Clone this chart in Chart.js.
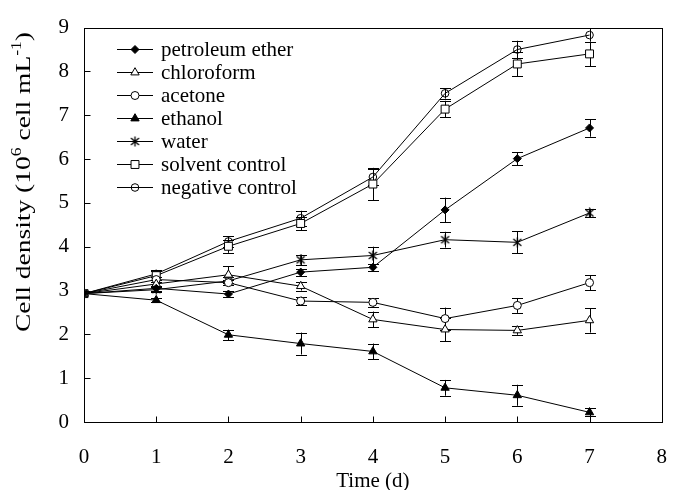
<!DOCTYPE html>
<html>
<head>
<meta charset="utf-8">
<script src="https://cdn.jsdelivr.net/npm/chart.js@4/dist/chart.umd.min.js"></script>
<style>
  html, body { margin: 0; padding: 0; background: #fff; }
  #wrap { width: 690px; height: 490px; }
</style>
</head>
<body>
<div id="wrap"><canvas id="c" width="690" height="490"></canvas></div>
<script>
// ---- data ----
const days = [0, 1, 2, 3, 4, 5, 6, 7];
const xTicks = [0, 1, 2, 3, 4, 5, 6, 7, 8];
const yTicks = [0, 1, 2, 3, 4, 5, 6, 7, 8, 9];
const seriesNames = ["petroleum ether", "chloroform", "acetone", "ethanol", "water", "solvent control", "negative control"];

const petroleum    = [2.93, 3.05, 2.92, 3.42, 3.53, 4.84, 6.01, 6.71];
const petroleumErr = [0, 0.05, 0.07, 0.08, 0.08, 0.28, 0.15, 0.20];
const chloroform    = [2.93, 3.15, 3.36, 3.10, 2.34, 2.11, 2.09, 2.32];
const chloroformErr = [0, 0.05, 0.19, 0.10, 0.18, 0.27, 0.10, 0.28];
const acetone    = [2.93, 3.25, 3.18, 2.76, 2.73, 2.36, 2.66, 3.18];
const acetoneErr = [0, 0.05, 0.05, 0.10, 0.10, 0.25, 0.17, 0.17];
const ethanol    = [2.93, 2.78, 1.99, 1.79, 1.61, 0.78, 0.61, 0.22];
const ethanolErr = [0, 0.05, 0.12, 0.25, 0.18, 0.18, 0.24, 0.09];
const water    = [2.93, 3.02, 3.22, 3.70, 3.80, 4.16, 4.10, 4.77];
const waterErr = [0, 0.06, 0.10, 0.12, 0.20, 0.18, 0.25, 0.10];
const solvent    = [2.93, 3.34, 4.01, 4.53, 5.43, 7.14, 8.17, 8.40];
const solventErr = [0, 0.10, 0.15, 0.15, 0.37, 0.19, 0.28, 0.28];
const negative    = [2.93, 3.38, 4.12, 4.65, 5.59, 7.50, 8.50, 8.83];
const negativeErr = [0, 0.08, 0.12, 0.17, 0.19, 0.12, 0.20, 0.15];

const seriesValues = [petroleum, chloroform, acetone, ethanol, water, solvent, negative];
const seriesErrors = [petroleumErr, chloroformErr, acetoneErr, ethanolErr, waterErr, solventErr, negativeErr];

// ---- styles ----
const FAMILY = '"Liberation Serif"';
const INK = '#000';
Chart.defaults.font.family = FAMILY;

// asterisk-like marker for "water"
function makeWaterMarker() {
  const c = document.createElement('canvas');
  c.width = 11; c.height = 11;
  const g = c.getContext('2d');
  g.strokeStyle = INK; g.lineWidth = 1.3;
  g.beginPath();
  g.moveTo(5.5, 0.5); g.lineTo(5.5, 10.5);
  g.moveTo(1.5, 2.0); g.lineTo(9.5, 9.0);
  g.moveTo(9.5, 2.0); g.lineTo(1.5, 9.0);
  g.stroke();
  return c;
}
const waterMarker = makeWaterMarker();

const markerStyles = [
  { pointStyle: 'rectRot',  radius: 4,   fill: INK },
  { pointStyle: 'triangle', radius: 4.8, fill: '#fff' },
  { pointStyle: 'circle',   radius: 4,   fill: '#fff' },
  { pointStyle: 'triangle', radius: 4.8, fill: INK },
  { pointStyle: waterMarker, radius: 5,  fill: 'rgba(0,0,0,0)' },
  { pointStyle: 'rect',     radius: 5.6, fill: '#fff' },
  { pointStyle: 'circle',   radius: 3.8, fill: 'rgba(0,0,0,0)' }
];

const datasets = seriesNames.map((name, s) => ({
  label: name,
  data: days.map((d, i) => ({ x: d, y: seriesValues[s][i] })),
  errors: seriesErrors[s],
  borderColor: INK,
  borderWidth: 1,
  backgroundColor: markerStyles[s].fill,
  pointStyle: markerStyles[s].pointStyle,
  pointRadius: markerStyles[s].radius,
  pointBorderColor: INK,
  pointBackgroundColor: markerStyles[s].fill,
  pointBorderWidth: 1,
  showLine: true,
  tension: 0,
  fill: false
}));

// ---- plugins ----
const errorBarPlugin = {
  id: 'errorBars',
  beforeDatasetsDraw(chart) {
    const ctx = chart.ctx, xs = chart.scales.x, ys = chart.scales.y;
    ctx.save();
    ctx.strokeStyle = INK; ctx.lineWidth = 1;
    chart.data.datasets.forEach(ds => {
      ds.data.forEach((p, i) => {
        const e = ds.errors[i];
        if (!e) return;
        const px = Math.round(xs.getPixelForValue(p.x)) + 0.5;
        const y1 = ys.getPixelForValue(p.y + e);
        const y2 = ys.getPixelForValue(p.y - e);
        const cap = 5.5;
        ctx.beginPath();
        ctx.moveTo(px, y1); ctx.lineTo(px, y2);
        ctx.moveTo(px - cap, Math.round(y1) + 0.5); ctx.lineTo(px + cap, Math.round(y1) + 0.5);
        ctx.moveTo(px - cap, Math.round(y2) + 0.5); ctx.lineTo(px + cap, Math.round(y2) + 0.5);
        ctx.stroke();
      });
    });
    ctx.restore();
  }
};

const legendPlugin = {
  id: 'insideLegend',
  afterDraw(chart) {
    const ctx = chart.ctx;
    chart.data.datasets.forEach((ds, i) => {
      const y = Math.round(49 + i * 23) + 0.5;
      ctx.save();
      ctx.strokeStyle = INK; ctx.lineWidth = 1;
      ctx.beginPath();
      ctx.moveTo(117, y); ctx.lineTo(153, y);
      ctx.stroke();
      ctx.fillStyle = ds.pointBackgroundColor;
      ctx.strokeStyle = INK;
      Chart.helpers.drawPoint(ctx, { pointStyle: ds.pointStyle, radius: ds.pointRadius, borderWidth: 1, rotation: 0 }, 135, y);
      ctx.restore();
    });
    ctx.save();
    ctx.font = 'normal 400 21px ' + FAMILY;
    ctx.textAlign = 'left';
    ctx.textBaseline = 'middle';
    ctx.fillStyle = INK;
    chart.data.datasets.forEach((ds, i) => {
      ctx.fillText(ds.label, 161, 50 + i * 23);
    });
    ctx.restore();
  }
};

const framePlugin = {
  id: 'frame',
  afterDraw(chart) {
    const ctx = chart.ctx, a = chart.chartArea, xs = chart.scales.x, ys = chart.scales.y;
    ctx.save();
    ctx.strokeStyle = INK; ctx.lineWidth = 1;
    const L = Math.round(a.left) + 0.5, R = Math.round(a.right) + 0.5;
    const T = Math.round(a.top) + 0.5, B = Math.round(a.bottom) + 0.5;
    ctx.strokeRect(L, T, R - L, B - T);
    ctx.beginPath();
    xTicks.forEach(v => {
      if (v === xTicks[0] || v === xTicks[xTicks.length - 1]) return;
      const px = Math.round(xs.getPixelForValue(v)) + 0.5;
      ctx.moveTo(px, B); ctx.lineTo(px, B - 6);
    });
    yTicks.forEach(v => {
      if (v === yTicks[0] || v === yTicks[yTicks.length - 1]) return;
      const py = Math.round(ys.getPixelForValue(v)) + 0.5;
      ctx.moveTo(L, py); ctx.lineTo(L + 6, py);
    });
    ctx.stroke();

    ctx.fillStyle = INK;
    ctx.font = 'normal 400 21px ' + FAMILY;
    ctx.textAlign = 'center';
    ctx.textBaseline = 'middle';
    ctx.fillText('Time (d)', (a.left + a.right) / 2, 481);

    const parts = [
      { t: 'Cell density (10', sup: false },
      { t: '6', sup: true },
      { t: ' cell mL', sup: false },
      { t: '-1', sup: true },
      { t: ')', sup: false }
    ];
    const fMain = 'normal 400 22px ' + FAMILY, fSup = 'normal 400 14px ' + FAMILY;
    let total = 0;
    parts.forEach(p => { ctx.font = p.sup ? fSup : fMain; p.w = ctx.measureText(p.t).width; total += p.w; });
    const sx = 300 / total;
    ctx.translate(23, 182);
    ctx.rotate(-Math.PI / 2);
    ctx.scale(sx, 1);
    ctx.textAlign = 'left';
    ctx.textBaseline = 'alphabetic';
    let x = -total / 2;
    parts.forEach(p => {
      ctx.font = p.sup ? fSup : fMain;
      ctx.fillText(p.t, x, p.sup ? -2 : 7);
      x += p.w;
    });
    ctx.restore();
  }
};

const chart = new Chart(document.getElementById('c'), {
  type: 'scatter',
  data: { datasets },
  options: {
    responsive: false,
    animation: false,
    events: [],
    layout: { padding: { top: 20, right: 8, left: 0, bottom: 0 } },
    plugins: { legend: { display: false }, tooltip: { enabled: false } },
    scales: {
      x: {
        type: 'linear', min: xTicks[0], max: xTicks[xTicks.length - 1],
        afterFit(s) { s.height = 68; },
        afterBuildTicks(s) { s.ticks = xTicks.map(v => ({ value: v })); },
        grid: { display: false, drawTicks: false },
        border: { display: false },
        ticks: { color: INK, font: { family: FAMILY, size: 21 }, padding: 23, maxRotation: 0 }
      },
      y: {
        type: 'linear', min: yTicks[0], max: yTicks[yTicks.length - 1],
        afterFit(s) { s.width = 84; },
        afterBuildTicks(s) { s.ticks = yTicks.map(v => ({ value: v })); },
        grid: { display: false, drawTicks: false },
        border: { display: false },
        ticks: { color: INK, font: { family: FAMILY, size: 21 }, padding: 15 }
      }
    }
  },
  plugins: [errorBarPlugin, framePlugin, legendPlugin]
});

if (document.fonts && document.fonts.load) {
  Promise.all([
    document.fonts.load('21px "Liberation Serif"'),
    document.fonts.load('14px "Liberation Serif"')
  ]).then(() => { chart.update('none'); }).catch(() => {});
}
</script>
</body>
</html>
